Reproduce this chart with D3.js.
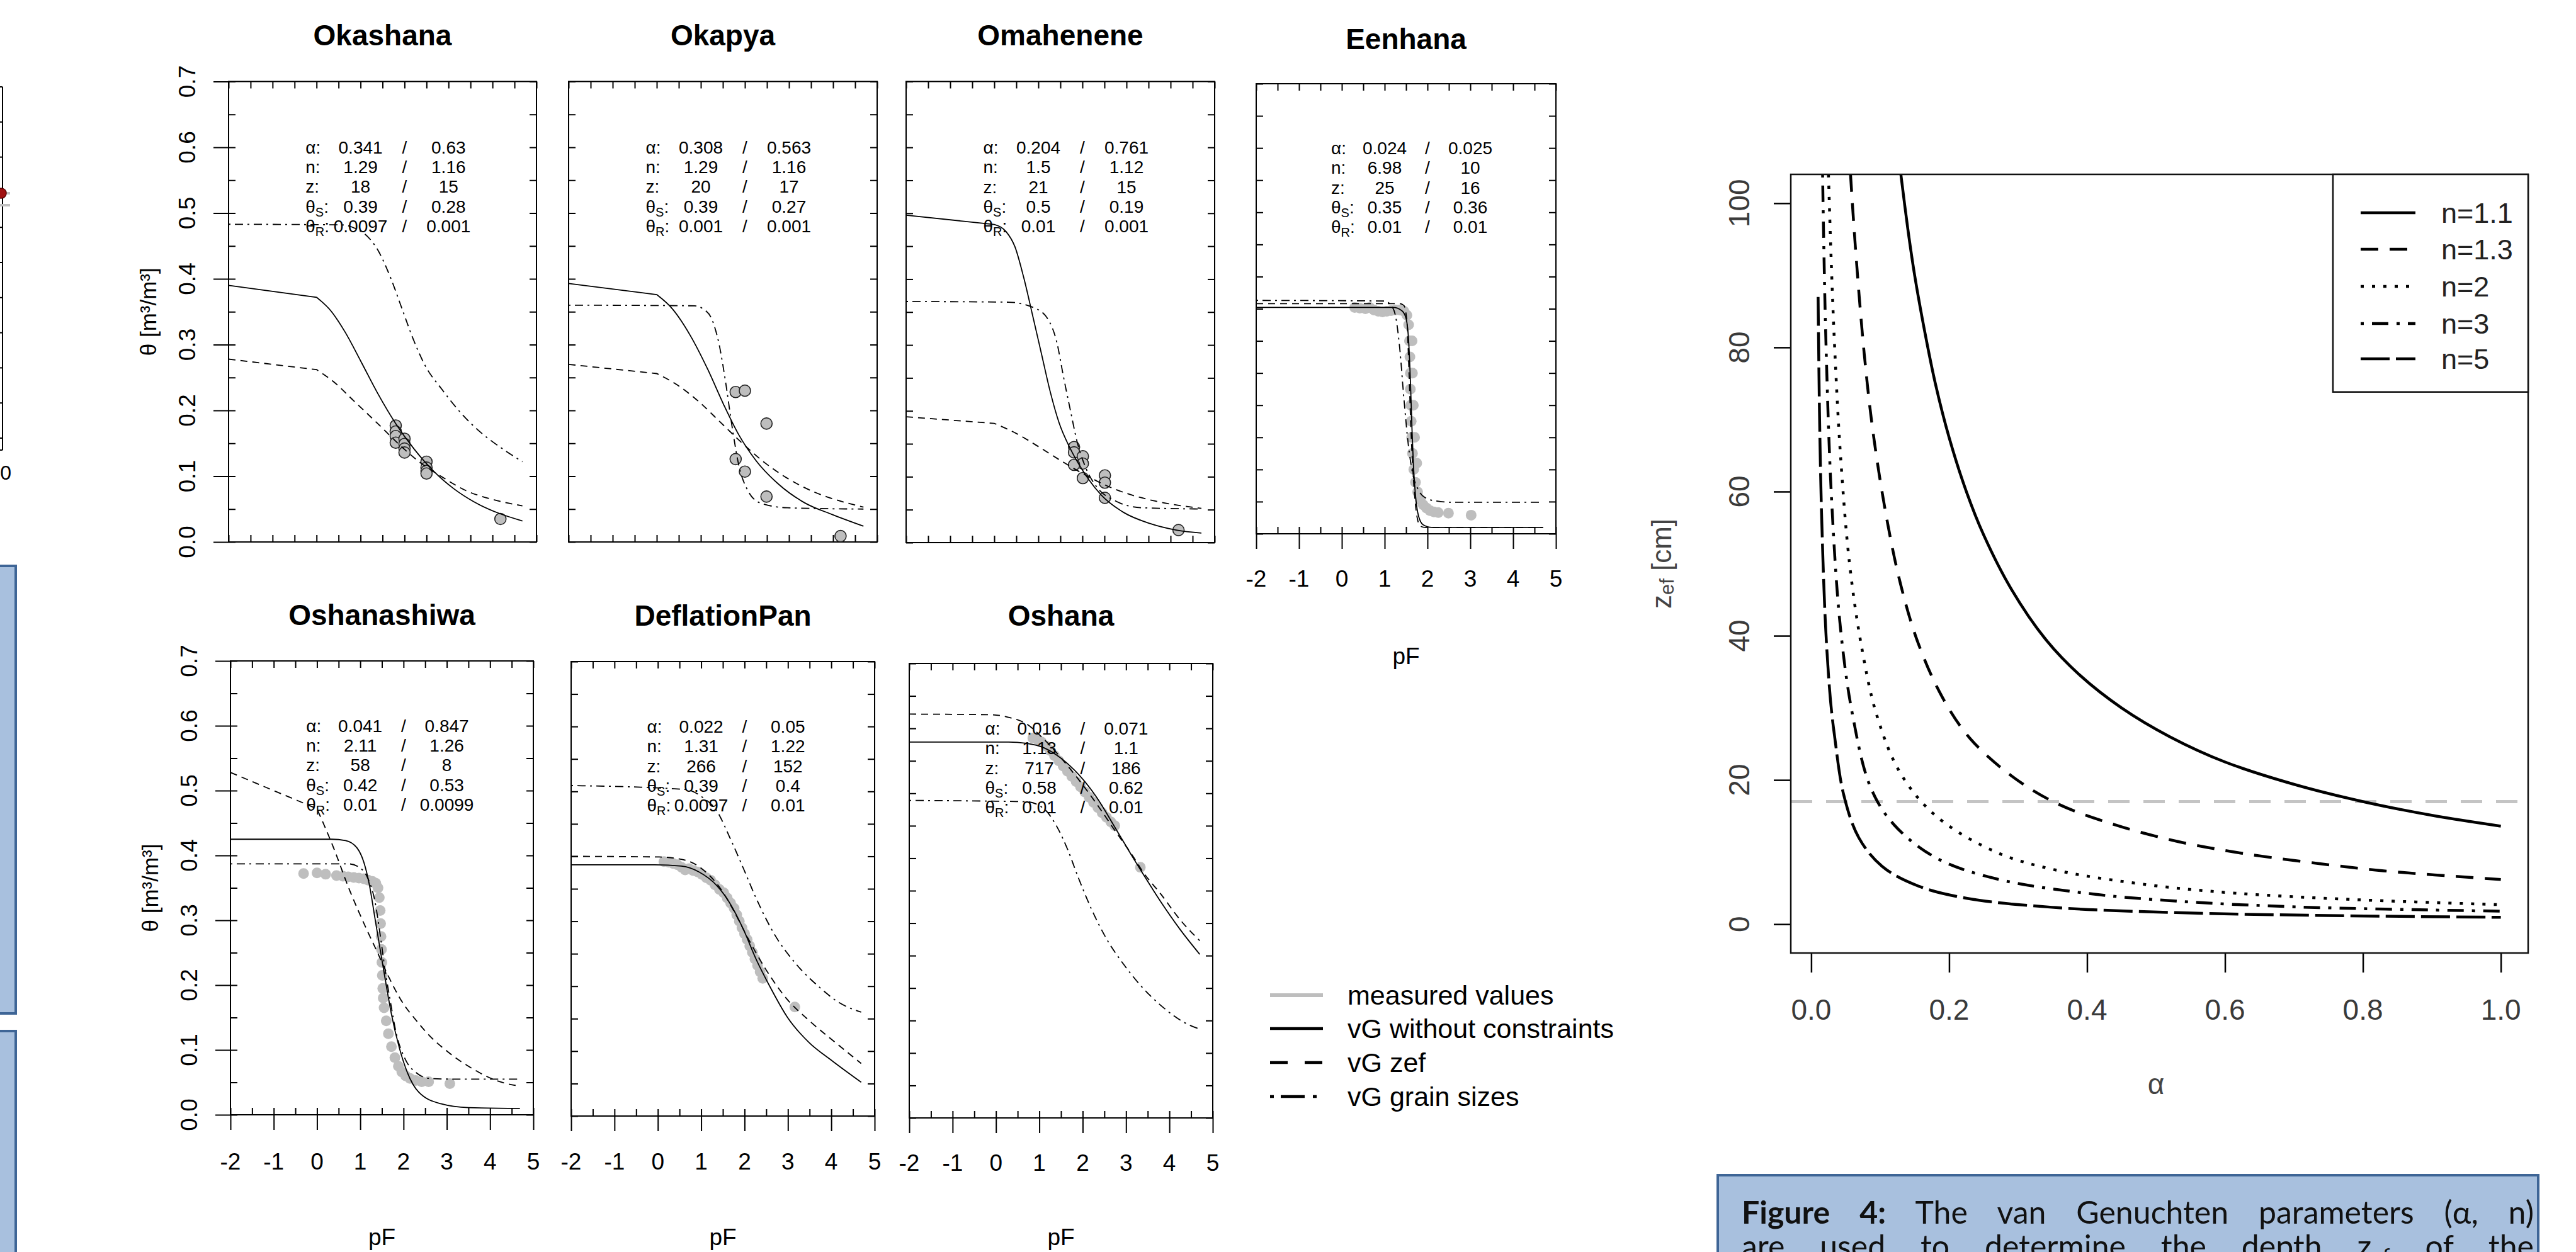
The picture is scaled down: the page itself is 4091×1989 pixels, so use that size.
<!DOCTYPE html>
<html><head><meta charset="utf-8">
<script src="https://cdn.jsdelivr.net/npm/d3@7"></script>
<style>html,body{margin:0;padding:0;background:#fff;} svg{display:block;}</style>
</head><body>
<svg id="c" width="4091" height="1989"></svg>
<script>
// ---------------- DATA ----------------
const siteNames = ["Okashana","Okapya","Omahenene","Eenhana","Oshanashiwa","DeflationPan","Oshana"];
const pFTicks = [-2,-1,0,1,2,3,4,5];
const thetaTicks = [0,0.1,0.2,0.3,0.4,0.5,0.6,0.7];
const paramSymbols = ["α","n","z","θ","θ"];
const paramSubs = ["","","","S","R"];

// parameter tables [first, second] per row (α, n, z, θS, θR)
const paramsOkashana    = [["0.341","0.63"],["1.29","1.16"],["18","15"],["0.39","0.28"],["0.0097","0.001"]];
const paramsOkapya      = [["0.308","0.563"],["1.29","1.16"],["20","17"],["0.39","0.27"],["0.001","0.001"]];
const paramsOmahenene   = [["0.204","0.761"],["1.5","1.12"],["21","15"],["0.5","0.19"],["0.01","0.001"]];
const paramsEenhana     = [["0.024","0.025"],["6.98","10"],["25","16"],["0.35","0.36"],["0.01","0.01"]];
const paramsOshanashiwa = [["0.041","0.847"],["2.11","1.26"],["58","8"],["0.42","0.53"],["0.01","0.0099"]];
const paramsDeflation   = [["0.022","0.05"],["1.31","1.22"],["266","152"],["0.39","0.4"],["0.0097","0.01"]];
const paramsOshana      = [["0.016","0.071"],["1.13","1.1"],["717","186"],["0.58","0.62"],["0.01","0.01"]];

// curves [pF, theta]
const okashanaSolid = [[-2,0.39],[0,0.372],[0.33,0.351],[0.65,0.319],[1.02,0.273],[1.39,0.226],[1.8,0.18],[2.21,0.142],[2.67,0.107],[3.12,0.081],[3.58,0.061],[4.13,0.044],[4.68,0.032]];
const okashanaZef   = [[-2,0.278],[0,0.262],[0.38,0.244],[0.84,0.215],[1.39,0.18],[1.93,0.145],[2.39,0.119],[2.85,0.099],[3.4,0.078],[4.04,0.064],[4.68,0.055]];
const okashanaGrain = [[-2,0.483],[0.6,0.482],[0.9,0.476],[1.15,0.465],[1.4,0.443],[1.67,0.404],[1.93,0.357],[2.2,0.308],[2.47,0.268],[2.85,0.232],[3.31,0.194],[3.76,0.165],[4.22,0.142],[4.68,0.122]];
const okashanaMeas  = [[1.8,0.177],[1.8,0.168],[1.8,0.161],[1.8,0.151],[2.0,0.157],[2.0,0.149],[2.0,0.142],[2.0,0.136],[2.5,0.122],[2.5,0.113],[2.5,0.108],[2.5,0.104],[4.18,0.035]];

const okapyaSolid = [[-2,0.393],[0,0.376],[0.36,0.354],[0.76,0.314],[1.16,0.262],[1.51,0.21],[1.86,0.163],[2.26,0.123],[2.76,0.088],[3.37,0.059],[3.97,0.042],[4.69,0.024]];
const okapyaZef   = [[-2,0.27],[0,0.256],[0.46,0.239],[0.96,0.213],[1.46,0.181],[1.96,0.149],[2.46,0.12],[2.96,0.097],[3.57,0.076],[4.17,0.062],[4.69,0.053]];
const okapyaGrain = [[-2,0.36],[0.86,0.359],[1.06,0.354],[1.26,0.337],[1.41,0.302],[1.56,0.244],[1.71,0.175],[1.86,0.117],[2.06,0.079],[2.36,0.059],[2.96,0.052],[4.69,0.05]];
const okapyaMeas  = [[1.79,0.228],[2.0,0.23],[2.49,0.18],[1.79,0.126],[2.0,0.107],[2.49,0.069],[4.17,0.009]];

const omaheneneSolid = [[-2,0.497],[0,0.483],[0.27,0.472],[0.47,0.449],[0.67,0.402],[0.87,0.345],[1.07,0.287],[1.27,0.229],[1.47,0.182],[1.73,0.142],[2.03,0.107],[2.43,0.072],[2.93,0.046],[3.53,0.029],[4.13,0.019],[4.7,0.0145]];
const omaheneneZef   = [[-2,0.191],[0,0.181],[0.52,0.165],[1.02,0.145],[1.52,0.124],[2.03,0.104],[2.53,0.087],[3.13,0.072],[3.73,0.062],[4.7,0.052]];
const omaheneneGrain = [[-2,0.366],[0.32,0.365],[0.92,0.356],[1.22,0.339],[1.42,0.304],[1.57,0.252],[1.73,0.2],[1.88,0.153],[2.08,0.113],[2.33,0.084],[2.73,0.064],[3.33,0.053],[4.7,0.051]];
const omaheneneMeas  = [[1.81,0.145],[1.81,0.137],[2.01,0.131],[2.01,0.12],[1.81,0.118],[2.01,0.098],[2.51,0.102],[2.51,0.091],[2.51,0.068],[4.18,0.019]];

const eenhanaSolid = [[-2,0.352],[1.2,0.352],[1.4,0.347],[1.5,0.335],[1.56,0.3],[1.6,0.24],[1.64,0.16],[1.67,0.11],[1.72,0.06],[1.79,0.028],[1.9,0.014],[2.1,0.01],[4.7,0.01]];
const eenhanaZef   = [[-2,0.358],[1.35,0.358],[1.45,0.355],[1.52,0.33],[1.57,0.25],[1.61,0.17],[1.65,0.11],[1.7,0.06],[1.76,0.025],[1.83,0.012],[1.95,0.01],[4.7,0.01]];
const eenhanaGrain = [[-2,0.363],[1.0,0.362],[1.15,0.355],[1.25,0.34],[1.35,0.29],[1.45,0.21],[1.55,0.14],[1.65,0.095],[1.79,0.068],[1.95,0.056],[2.2,0.051],[2.6,0.049],[4.7,0.049]];
const eenhanaMeas  = [[0.3,0.352],[0.42,0.351],[0.55,0.35],[0.65,0.352],[0.75,0.348],[0.85,0.346],[0.95,0.345],[1.05,0.346],[1.15,0.347],[1.25,0.348],[1.35,0.348],[1.45,0.346],[1.52,0.34],[1.56,0.325],[1.58,0.3],[1.59,0.275],[1.6,0.25],[1.6,0.225],[1.61,0.2],[1.62,0.175],[1.63,0.15],[1.65,0.125],[1.68,0.1],[1.72,0.08],[1.77,0.065],[1.83,0.053],[1.9,0.045],[1.98,0.04],[2.06,0.036],[2.15,0.034],[2.25,0.033],[2.49,0.032],[3.02,0.029],[1.64,0.3],[1.65,0.25],[1.67,0.2],[1.7,0.15],[1.75,0.11]];

const oshanashiwaSolid = [[-2,0.425],[0.34,0.425],[0.66,0.423],[0.92,0.412],[1.08,0.39],[1.21,0.355],[1.34,0.303],[1.47,0.251],[1.6,0.2],[1.73,0.152],[1.9,0.104],[2.09,0.065],[2.35,0.035],[2.86,0.017],[3.5,0.011],[4.69,0.0098]];
const oshanashiwaZef   = [[-2,0.528],[0,0.472],[0.37,0.414],[0.75,0.347],[1.12,0.29],[1.4,0.25],[1.64,0.215],[1.96,0.175],[2.3,0.145],[2.6,0.122],[2.97,0.1],[3.62,0.07],[4.18,0.052],[4.69,0.044]];
const oshanashiwaGrain = [[-2,0.387],[0.73,0.387],[0.99,0.381],[1.18,0.364],[1.34,0.329],[1.47,0.273],[1.57,0.225],[1.7,0.173],[1.83,0.126],[2.03,0.087],[2.29,0.065],[2.61,0.056],[3.2,0.055],[4.69,0.055]];
const oshanashiwaMeas  = [[-0.31,0.372],[0.0,0.373],[0.2,0.371],[0.45,0.369],[0.6,0.368],[0.72,0.367],[0.85,0.366],[0.97,0.365],[1.08,0.364],[1.18,0.362],[1.28,0.36],[1.36,0.357],[1.41,0.35],[1.44,0.335],[1.46,0.315],[1.47,0.295],[1.48,0.275],[1.49,0.255],[1.5,0.235],[1.51,0.215],[1.52,0.195],[1.53,0.18],[1.55,0.165],[1.6,0.145],[1.65,0.125],[1.72,0.105],[1.8,0.088],[1.88,0.075],[1.96,0.066],[2.05,0.06],[2.15,0.056],[2.28,0.053],[2.42,0.051],[2.58,0.051],[3.07,0.048]];

const deflationSolid = [[-2,0.387],[-0.07,0.387],[0.54,0.385],[0.95,0.376],[1.36,0.355],[1.66,0.328],[1.97,0.288],[2.27,0.241],[2.58,0.2],[2.98,0.153],[3.49,0.113],[4.0,0.086],[4.69,0.052]];
const deflationZef   = [[-2,0.4],[0.03,0.399],[0.64,0.394],[1.05,0.379],[1.46,0.349],[1.76,0.315],[2.07,0.275],[2.48,0.227],[2.98,0.18],[3.49,0.147],[4.1,0.113],[4.69,0.081]];
const deflationGrain = [[-2,0.509],[0.64,0.503],[1.05,0.49],[1.36,0.47],[1.66,0.429],[1.97,0.382],[2.27,0.335],[2.68,0.281],[3.19,0.234],[3.7,0.2],[4.2,0.174],[4.69,0.16]];
const deflationMeas  = [[0.14,0.392],[0.25,0.391],[0.35,0.389],[0.45,0.387],[0.55,0.383],[0.63,0.379],[0.72,0.381],[0.82,0.378],[0.92,0.376],[1.02,0.372],[1.12,0.367],[1.22,0.363],[1.32,0.356],[1.42,0.349],[1.52,0.344],[1.6,0.336],[1.68,0.328],[1.76,0.32],[1.82,0.31],[1.88,0.3],[1.94,0.29],[2.0,0.281],[2.06,0.272],[2.12,0.262],[2.18,0.252],[2.24,0.242],[2.3,0.232],[2.36,0.222],[2.42,0.212],[3.16,0.168]];

const oshanaSolid = [[-2,0.579],[0.29,0.579],[0.7,0.577],[1.11,0.57],[1.52,0.553],[1.92,0.528],[2.33,0.493],[2.74,0.448],[3.15,0.402],[3.4,0.375],[3.8,0.333],[4.25,0.29],[4.7,0.252]];
const oshanaZef   = [[-2,0.622],[-0.11,0.621],[0.29,0.617],[0.7,0.607],[1.11,0.583],[1.52,0.553],[1.92,0.52],[2.33,0.483],[2.74,0.443],[3.15,0.404],[3.4,0.378],[3.8,0.345],[4.25,0.305],[4.7,0.273]];
const oshanaGrain = [[-2,0.489],[0.7,0.487],[1.11,0.476],[1.41,0.448],[1.65,0.414],[1.9,0.37],[2.2,0.322],[2.54,0.277],[2.94,0.237],[3.35,0.203],[3.86,0.17],[4.37,0.146],[4.73,0.136]];
const oshanaMeas  = [[0.85,0.585],[0.95,0.583],[1.05,0.579],[1.15,0.573],[1.25,0.566],[1.35,0.558],[1.45,0.55],[1.55,0.542],[1.65,0.534],[1.75,0.526],[1.85,0.518],[1.95,0.51],[2.05,0.502],[2.15,0.494],[2.25,0.486],[2.35,0.478],[2.45,0.47],[2.55,0.463],[2.65,0.456],[2.74,0.45],[3.33,0.386]];

const legendLabels = ["measured values","vG without constraints","vG zef","vG grain sizes"];

// right chart: z_ef vs alpha
const alphaTicks = [0,0.2,0.4,0.6,0.8,1.0];
const zTicks = [0,20,40,60,80,100];
const nLabels = ["n=1.1","n=1.3","n=2","n=3","n=5"];
const zefN11 = [[0.13,104],[0.14,96.5],[0.15,90],[0.165,82],[0.18,75],[0.2,67.5],[0.225,60],[0.25,54],[0.29,46.5],[0.34,39.5],[0.39,34.5],[0.45,30],[0.52,26],[0.6,22.5],[0.7,19.4],[0.8,17],[0.9,15.1],[1.0,13.6]];
const zefN13 = [[0.057,104],[0.064,94],[0.077,79],[0.09,68],[0.11,56],[0.13,47],[0.155,39],[0.19,31.5],[0.23,25.8],[0.29,20.6],[0.355,16.8],[0.44,13.8],[0.53,11.5],[0.62,9.9],[0.72,8.6],[0.83,7.4],[1.0,6.2]];
const zefN2  = [[0.025,104],[0.029,92],[0.034,80],[0.0425,65],[0.0556,50],[0.073,38.5],[0.095,29],[0.129,21],[0.181,15],[0.268,10],[0.355,7.5],[0.485,5.5],[0.615,4.3],[0.789,3.4],[1.0,2.7]];
const zefN3  = [[0.0165,104],[0.021,82],[0.0295,59],[0.0425,41],[0.06,29],[0.086,19],[0.12,13.8],[0.181,9.2],[0.268,6.3],[0.398,4.3],[0.529,3.2],[0.702,2.4],[1.0,1.8]];
const zefN5  = [[0.01,87],[0.012,71],[0.015,57],[0.021,41],[0.028,31],[0.034,26],[0.047,18],[0.069,12],[0.103,8],[0.155,5.3],[0.225,3.6],[0.355,2.3],[0.529,1.6],[0.75,1.2],[1.0,0.95]];
const zefThreshold = 17;

// ---------------- LAYOUT / STYLE ----------------
const FONT = "'Liberation Sans', Arial, Helvetica, sans-serif";
const svg = d3.select("#c");
svg.append("rect").attr("width",4091).attr("height",1989).attr("fill","#fff");
const defs = svg.append("defs");

const sites = [
  {name:siteNames[0], params:paramsOkashana, solid:okashanaSolid, zef:okashanaZef, grain:okashanaGrain, meas:okashanaMeas, outlined:true},
  {name:siteNames[1], params:paramsOkapya, solid:okapyaSolid, zef:okapyaZef, grain:okapyaGrain, meas:okapyaMeas, outlined:true},
  {name:siteNames[2], params:paramsOmahenene, solid:omaheneneSolid, zef:omaheneneZef, grain:omaheneneGrain, meas:omaheneneMeas, outlined:true},
  {name:siteNames[3], params:paramsEenhana, solid:eenhanaSolid, zef:eenhanaZef, grain:eenhanaGrain, meas:eenhanaMeas, outlined:false},
  {name:siteNames[4], params:paramsOshanashiwa, solid:oshanashiwaSolid, zef:oshanashiwaZef, grain:oshanashiwaGrain, meas:oshanashiwaMeas, outlined:false},
  {name:siteNames[5], params:paramsDeflation, solid:deflationSolid, zef:deflationZef, grain:deflationGrain, meas:deflationMeas, outlined:false},
  {name:siteNames[6], params:paramsOshana, solid:oshanaSolid, zef:oshanaZef, grain:oshanaGrain, meas:oshanaMeas, outlined:false}
];
const layout = [
  {x0:363, x1:852, y0:129.5, y1:861, yLab:true,  xLab:false, titleY:56},
  {x0:903, x1:1393, y0:129.5, y1:861, yLab:false, xLab:false, titleY:56},
  {x0:1439,x1:1929, y0:129.5, y1:862, yLab:false, xLab:false, titleY:56},
  {x0:1995,x1:2471, y0:133, y1:848, yLab:false, xLab:true, titleY:62, xLabY:919, pFY:1042},
  {x0:366, x1:847, y0:1050, y1:1771, yLab:true,  xLab:true, titleY:977, xLabY:1845, pFY:1965},
  {x0:907, x1:1389, y0:1051, y1:1773, yLab:false, xLab:true, titleY:978, xLabY:1845, pFY:1965},
  {x0:1444,x1:1926, y0:1054, y1:1776, yLab:false, xLab:true, titleY:978, xLabY:1847, pFY:1965}
];

function styleAxis(sel, w) {
  sel.select(".domain").remove();
  sel.selectAll("line").attr("stroke","#000").attr("stroke-width", w || 2);
  sel.selectAll("text").remove();
}

// path keeping a sharp corner at pF = 0 where the curve is tabulated linearly below it
function curvePath(data, x, y) {
  const mono = d3.line().x(d => x(d[0])).y(d => y(d[1])).curve(d3.curveMonotoneX);
  const k = data.findIndex(d => d[0] === 0);
  if (k > 0) {
    const lin = d3.line().x(d => x(d[0])).y(d => y(d[1]));
    return lin(data.slice(0, k+1)) + "L" + mono(data.slice(k)).slice(1);
  }
  return mono(data);
}

function drawPanel(i) {
  const L = layout[i], S = sites[i];
  const x = d3.scaleLinear().domain([-2,5]).range([L.x0, L.x1]);
  const y = d3.scaleLinear().domain([0,0.7]).range([L.y1, L.y0]);
  const g = svg.append("g");
  const cid = "clip"+i;
  defs.append("clipPath").attr("id",cid).append("rect")
    .attr("x",L.x0).attr("y",L.y0).attr("width",L.x1-L.x0).attr("height",L.y1-L.y0);

  const minorX = d3.range(0,15).map(k => -2 + k*0.5);
  const minorY = d3.range(0,15).map(k => k*0.05);
  g.append("g").attr("transform",`translate(0,${L.y1})`).call(d3.axisBottom(x).tickValues(minorX).tickSize(-11).tickSizeOuter(0)).call(s=>styleAxis(s));
  g.append("g").attr("transform",`translate(0,${L.y0})`).call(d3.axisTop(x).tickValues(minorX).tickSize(-11).tickSizeOuter(0)).call(s=>styleAxis(s));
  g.append("g").attr("transform",`translate(${L.x0},0)`).call(d3.axisLeft(y).tickValues(minorY).tickSize(-11).tickSizeOuter(0)).call(s=>styleAxis(s));
  g.append("g").attr("transform",`translate(${L.x1},0)`).call(d3.axisRight(y).tickValues(minorY).tickSize(-11).tickSizeOuter(0)).call(s=>styleAxis(s));
  g.append("rect").attr("x",L.x0).attr("y",L.y0).attr("width",L.x1-L.x0).attr("height",L.y1-L.y0)
    .attr("fill","none").attr("stroke","#000").attr("stroke-width",2);

  if (L.yLab) {
    g.append("g").attr("transform",`translate(${L.x0},0)`).call(d3.axisLeft(y).tickValues(thetaTicks).tickSize(24).tickSizeOuter(0)).call(s=>styleAxis(s));
    g.selectAll(null).data(thetaTicks).join("text")
      .attr("transform", d => `translate(${L.x0-66},${y(d)}) rotate(-90)`)
      .attr("text-anchor","middle").attr("dominant-baseline","central")
      .attr("font-family",FONT).attr("font-size",37).text(d => d.toFixed(1));
    g.append("text")
      .attr("transform", `translate(${L.x0-128},${(L.y0+L.y1)/2}) rotate(-90)`)
      .attr("text-anchor","middle").attr("dominant-baseline","central")
      .attr("font-family",FONT).attr("font-size",35).text("θ [m³/m³]");
  }
  if (L.xLab) {
    g.append("g").attr("transform",`translate(0,${L.y1})`).call(d3.axisBottom(x).tickValues(pFTicks).tickSize(24).tickSizeOuter(0)).call(s=>styleAxis(s));
    g.selectAll(null).data(pFTicks).join("text")
      .attr("x", d => x(d)).attr("y", L.xLabY)
      .attr("text-anchor","middle").attr("dominant-baseline","central")
      .attr("font-family",FONT).attr("font-size",37).text(d => d);
    g.append("text").attr("x",(L.x0+L.x1)/2).attr("y",L.pFY)
      .attr("text-anchor","middle").attr("dominant-baseline","central")
      .attr("font-family",FONT).attr("font-size",37).text("pF");
  }
  g.append("text").attr("x",(L.x0+L.x1)/2).attr("y",L.titleY)
    .attr("text-anchor","middle").attr("dominant-baseline","central")
    .attr("font-family",FONT).attr("font-weight","bold").attr("font-size",46).text(S.name);

  const plot = g.append("g").attr("clip-path",`url(#${cid})`);
  plot.selectAll(null).data(S.meas).join("circle")
    .attr("cx", d => x(d[0])).attr("cy", d => y(d[1]))
    .attr("r", S.outlined ? 9 : 8.5)
    .attr("fill","#bebebe")
    .attr("stroke", S.outlined ? "#222" : "none").attr("stroke-width", 1.6);
  plot.append("path").attr("d", curvePath(S.grain, x, y)).attr("fill","none").attr("stroke","#000")
    .attr("stroke-width",1.8).attr("stroke-dasharray","3,7,13,7");
  plot.append("path").attr("d", curvePath(S.zef, x, y)).attr("fill","none").attr("stroke","#000")
    .attr("stroke-width",1.8).attr("stroke-dasharray","11,8");
  plot.append("path").attr("d", curvePath(S.solid, x, y)).attr("fill","none").attr("stroke","#000")
    .attr("stroke-width",1.8);

  const tg = g.append("g").attr("font-family",FONT).attr("font-size",28).attr("fill","#000");
  S.params.forEach((row, r) => {
    const by = y(0.6) + r*31.2 + 10;
    const lab = tg.append("text").attr("x", x(-0.25)).attr("y", by);
    lab.append("tspan").text(paramSymbols[r]);
    if (paramSubs[r]) {
      lab.append("tspan").attr("dy",6).attr("font-size",20).text(paramSubs[r]);
      lab.append("tspan").attr("dy",-6).text(":");
    } else {
      lab.append("tspan").text(":");
    }
    tg.append("text").attr("x", x(1)).attr("y", by).attr("text-anchor","middle").text(row[0]);
    tg.append("text").attr("x", x(2)).attr("y", by).attr("text-anchor","middle").text("/");
    tg.append("text").attr("x", x(3)).attr("y", by).attr("text-anchor","middle").text(row[1]);
  });
}
for (let i = 0; i < 7; i++) drawPanel(i);

// left-figure legend
(function(){
  const lg = svg.append("g").attr("font-family",FONT).attr("font-size",43);
  const ys = [1581,1634,1688,1742];
  const styles = [
    {stroke:"#bebebe", w:6, dash:null},
    {stroke:"#000", w:4.5, dash:null},
    {stroke:"#000", w:4.5, dash:"28,27"},
    {stroke:"#000", w:4.5, dash:"6,11,38,13"}
  ];
  legendLabels.forEach((t, k) => {
    lg.append("line").attr("x1",2017).attr("x2",2101).attr("y1",ys[k]).attr("y2",ys[k])
      .attr("stroke",styles[k].stroke).attr("stroke-width",styles[k].w)
      .attr("stroke-dasharray",styles[k].dash);
    lg.append("text").attr("x",2140).attr("y",ys[k]).attr("dominant-baseline","central").text(t);
  });
})();

// ---------------- right chart ----------------
(function(){
  const R = {x0:2844, x1:4015, y0:277, y1:1514};
  const x = d3.scaleLinear().domain([-0.0296, 1.0396]).range([R.x0, R.x1]);
  const y = d3.scaleLinear().domain([-4, 104]).range([R.y1, R.y0]);
  const g = svg.append("g");
  defs.append("clipPath").attr("id","clipR").append("rect")
    .attr("x",R.x0).attr("y",R.y0).attr("width",R.x1-R.x0).attr("height",R.y1-R.y0);
  g.append("g").attr("transform",`translate(0,${R.y1})`).call(d3.axisBottom(x).tickValues(alphaTicks).tickSize(31).tickSizeOuter(0)).call(s=>styleAxis(s,2.5));
  g.append("g").attr("transform",`translate(${R.x0},0)`).call(d3.axisLeft(y).tickValues(zTicks).tickSize(27).tickSizeOuter(0)).call(s=>styleAxis(s,2.5));
  g.selectAll(null).data(alphaTicks).join("text")
    .attr("x", d => x(d)).attr("y", 1604).attr("text-anchor","middle").attr("dominant-baseline","central")
    .attr("font-family",FONT).attr("font-size",46).attr("fill","#3a3a3a").text(d => d.toFixed(1));
  g.selectAll(null).data(zTicks).join("text")
    .attr("transform", d => `translate(2762,${y(d)}) rotate(-90)`).attr("text-anchor","middle").attr("dominant-baseline","central")
    .attr("font-family",FONT).attr("font-size",46).attr("fill","#3a3a3a").text(d => d);
  g.append("text").attr("x",(x(0)+x(1))/2).attr("y",1722).attr("text-anchor","middle").attr("dominant-baseline","central")
    .attr("font-family",FONT).attr("font-size",46).attr("fill","#444").text("α");
  const yt = g.append("text").attr("transform",`translate(2638,${(R.y0+R.y1)/2}) rotate(-90)`)
    .attr("text-anchor","middle").attr("dominant-baseline","central")
    .attr("font-family",FONT).attr("font-size",44).attr("fill","#444");
  yt.append("tspan").text("z");
  yt.append("tspan").attr("dy",9).attr("font-size",31).text("ef");
  yt.append("tspan").attr("dy",-9).text(" [cm]");

  const plot = g.append("g").attr("clip-path","url(#clipR)");
  plot.append("line").attr("x1",R.x0).attr("x2",R.x1).attr("y1",y(zefThreshold)).attr("y2",y(zefThreshold))
    .attr("stroke","#c4c4c4").attr("stroke-width",5).attr("stroke-dasharray","34,22");
  const line = d3.line().x(d => x(d[0])).y(d => y(d[1])).curve(d3.curveCatmullRom.alpha(0.5));
  const curves = [zefN11, zefN13, zefN2, zefN3, zefN5];
  const dashes = [null, "28,18", "5,13", "5,13,26,13", "46,10"];
  curves.forEach((c, k) => {
    plot.append("path").attr("d", line(c)).attr("fill","none").attr("stroke","#000")
      .attr("stroke-width",4.5).attr("stroke-dasharray",dashes[k]);
  });
  g.append("rect").attr("x",R.x0).attr("y",R.y0).attr("width",R.x1-R.x0).attr("height",R.y1-R.y0)
    .attr("fill","none").attr("stroke","#111").attr("stroke-width",2.5);
  g.append("rect").attr("x",3705).attr("y",R.y0).attr("width",R.x1-3705).attr("height",622.7-R.y0)
    .attr("fill","#fff").attr("stroke","#111").attr("stroke-width",2.5);
  const ly = [338,396,455,514,570];
  nLabels.forEach((t,k) => {
    g.append("line").attr("x1",3749).attr("x2",3836).attr("y1",ly[k]).attr("y2",ly[k])
      .attr("stroke","#000").attr("stroke-width",4.5).attr("stroke-dasharray",dashes[k]);
    g.append("text").attr("x",3877).attr("y",ly[k]).attr("dominant-baseline","central")
      .attr("font-family",FONT).attr("font-size",45).attr("fill","#222").text(t);
  });
})();

// ---------------- poster remnants (left edge) ----------------
(function(){
  const g = svg.append("g");
  g.append("line").attr("x1",4).attr("x2",4).attr("y1",138).attr("y2",715).attr("stroke","#000").attr("stroke-width",2);
  g.append("line").attr("x1",0).attr("x2",4).attr("y1",138).attr("y2",138).attr("stroke","#000").attr("stroke-width",2);
  g.append("line").attr("x1",0).attr("x2",4).attr("y1",715).attr("y2",715).attr("stroke","#000").attr("stroke-width",2);
  d3.range(0,11).forEach(k => g.append("line").attr("x1",0).attr("x2",4).attr("y1",138+k*55.8).attr("y2",138+k*55.8).attr("stroke","#000").attr("stroke-width",2));
  g.append("line").attr("x1",0).attr("x2",16).attr("y1",307).attr("y2",307).attr("stroke","#c0c0c0").attr("stroke-width",4);
  g.append("line").attr("x1",0).attr("x2",16).attr("y1",326).attr("y2",326).attr("stroke","#c0c0c0").attr("stroke-width",4);
  g.append("circle").attr("cx",2).attr("cy",307).attr("r",8).attr("fill","#a01010").attr("stroke","#500").attr("stroke-width",1.5);
  g.append("text").attr("x",18).attr("y",751).attr("text-anchor","end").attr("dominant-baseline","central")
    .attr("font-family",FONT).attr("font-size",32).text("20");
  g.append("rect").attr("x",-10).attr("y",899).attr("width",35).attr("height",711)
    .attr("fill","#a8c0de").attr("stroke","#3e6596").attr("stroke-width",4);
  g.append("rect").attr("x",-10).attr("y",1638).attr("width",35).attr("height",400)
    .attr("fill","#a8c0de").attr("stroke","#3e6596").attr("stroke-width",4);
})();

// ---------------- caption box ----------------
(function(){
  const g = svg.append("g");
  g.append("rect").attr("x",2728).attr("y",1867).attr("width",1303).attr("height",200)
    .attr("fill","#a8c0de").attr("stroke","#3e6596").attr("stroke-width",4);
  const CF = "Lato, 'Open Sans', 'DejaVu Sans', sans-serif";
  const left = 2766, right = 4024;
  function justify(t) {
    const natural = t.node().getComputedTextLength();
    const spaces = (t.text().match(/ /g) || []).length;
    if (spaces > 0) t.attr("word-spacing", (right-left-natural)/spaces);
  }
  const t1 = g.append("text").attr("x",left).attr("y",1944).attr("font-family",CF).attr("font-size",50).attr("fill","#111");
  t1.append("tspan").attr("font-weight","bold").text("Figure 4:");
  t1.append("tspan").text(" The van Genuchten parameters (α, n)");
  justify(t1);
  const t2 = g.append("text").attr("x",left).attr("y",1998).attr("font-family",CF).attr("font-size",50).attr("fill","#111");
  t2.append("tspan").text("are used to determine the depth z");
  t2.append("tspan").attr("dy",10).attr("font-size",34).text("ef");
  t2.append("tspan").attr("dy",-10).text(" of the");
  justify(t2);
})();
</script>
</body></html>
